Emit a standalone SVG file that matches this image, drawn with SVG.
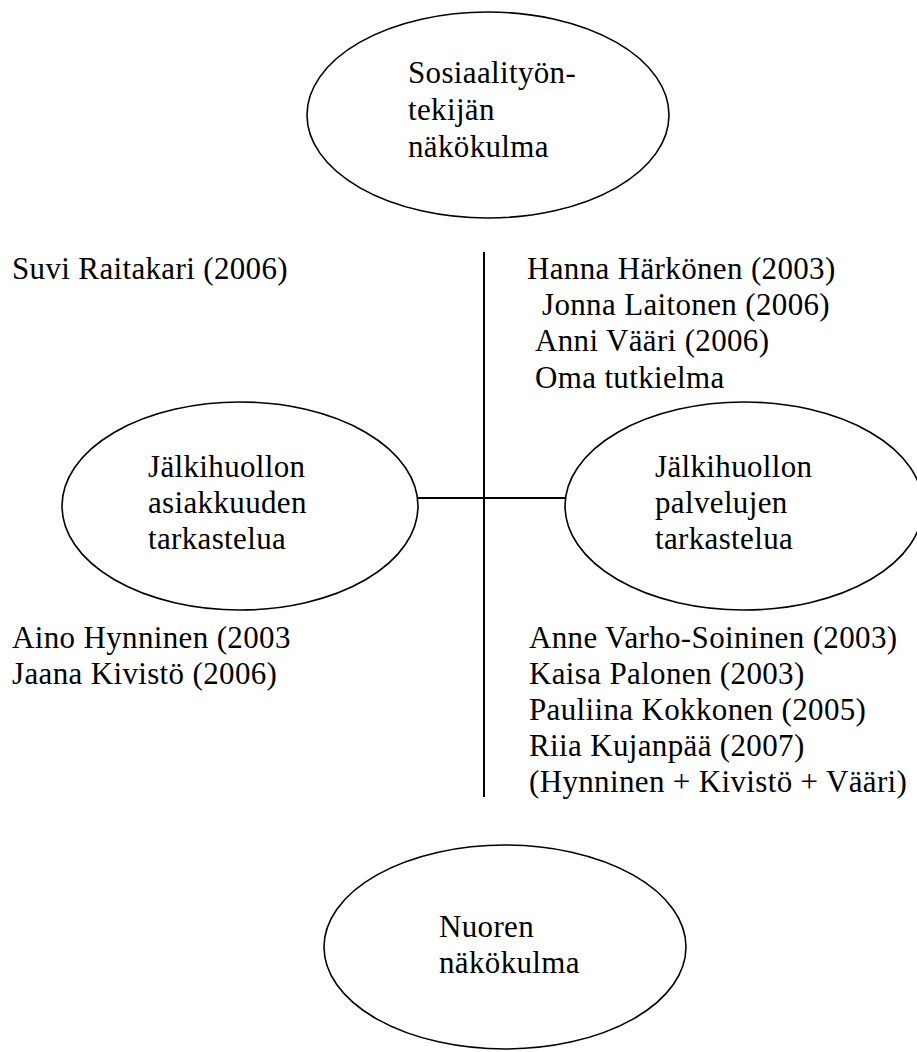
<svg xmlns="http://www.w3.org/2000/svg" width="917" height="1052" viewBox="0 0 917 1052">
<style>
.n{fill:#fff;stroke:#000;stroke-width:1.6}
.c{stroke:#000;stroke-width:2;fill:none}
text{font-family:"Liberation Serif","Times New Roman",serif;font-size:31px;letter-spacing:0.35px;fill:#000}
</style>
<rect width="917" height="1052" fill="#fff"/>
<g id="connectors">
<line class="c" x1="484" y1="252" x2="484" y2="797"/>
<line class="c" x1="418" y1="498" x2="565" y2="498"/>
</g>
<g id="node-top">
<ellipse class="n" cx="488" cy="115" rx="181" ry="103"/>
<text x="408" y="83">Sosiaalityön-</text>
<text x="408" y="120">tekijän</text>
<text x="408" y="157">näkökulma</text>
</g>
<g id="node-left">
<ellipse class="n" cx="240" cy="506" rx="178" ry="104"/>
<text x="148" y="477">Jälkihuollon</text>
<text x="148" y="513">asiakkuuden</text>
<text x="148" y="549">tarkastelua</text>
</g>
<g id="node-right">
<ellipse class="n" cx="744" cy="506" rx="179" ry="104"/>
<text x="655" y="477">Jälkihuollon</text>
<text x="655" y="513">palvelujen</text>
<text x="655" y="549">tarkastelua</text>
</g>
<g id="node-bottom">
<ellipse class="n" cx="505" cy="947" rx="181" ry="102"/>
<text x="439" y="937">Nuoren</text>
<text x="439" y="973">näkökulma</text>
</g>
<g id="labels-top-left">
<text x="12" y="279">Suvi Raitakari (2006)</text>
</g>
<g id="labels-top-right">
<text x="527" y="279">Hanna Härkönen (2003)</text>
<text x="542" y="315">Jonna Laitonen (2006)</text>
<text x="535" y="351">Anni Vääri (2006)</text>
<text x="535" y="388">Oma tutkielma</text>
</g>
<g id="labels-bottom-left">
<text x="12" y="648">Aino Hynninen (2003</text>
<text x="12" y="684">Jaana Kivistö (2006)</text>
</g>
<g id="labels-bottom-right">
<text x="529" y="648">Anne Varho-Soininen (2003)</text>
<text x="529" y="684">Kaisa Palonen (2003)</text>
<text x="529" y="720">Pauliina Kokkonen (2005)</text>
<text x="529" y="756">Riia Kujanpää (2007)</text>
<text x="529" y="792">(Hynninen + Kivistö + Vääri)</text>
</g>
</svg>
